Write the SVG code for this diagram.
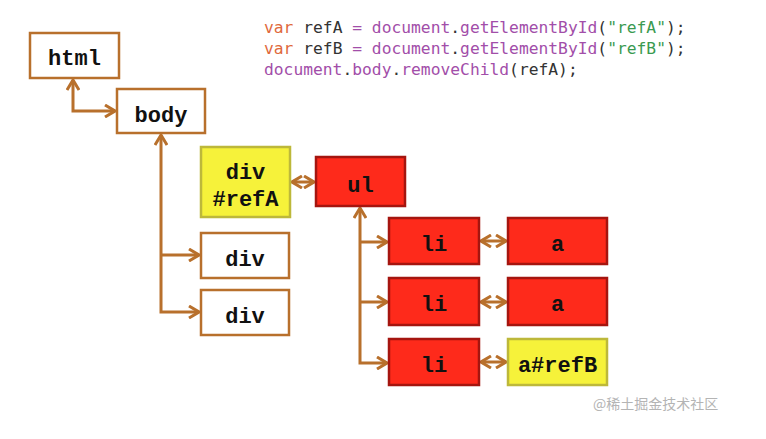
<svg xmlns="http://www.w3.org/2000/svg" width="766" height="439" viewBox="0 0 766 439">
<style>
.box{stroke-width:2.5}
.w{fill:#ffffff;stroke:#b8702c}
.y{fill:#f6f23a;stroke:#bdb83a}
.r{fill:#fe2a1b;stroke:#a5150f}
.lbl{font-family:"Liberation Mono","Courier New",monospace;font-weight:bold;font-size:22px;fill:#111;text-anchor:middle}
.code{font-family:"DejaVu Sans Mono","Liberation Mono",monospace;font-size:16.3px;white-space:pre;fill:#333}
.kw{fill:#e0693c}.pu{fill:#a24ea9}.st{fill:#3a9a50}
.con path{fill:none;stroke:#b8702c;stroke-width:3}
.wm{font-family:"Noto Sans CJK SC","Noto Sans",sans-serif;font-size:14px;fill:#b4b4b4}
</style>
<defs>
<marker id="ah" markerUnits="userSpaceOnUse" viewBox="0 0 12 14" refX="11" refY="7" markerWidth="12" markerHeight="14" orient="auto-start-reverse">
<path d="M1,1 L11,7 L1,13" fill="none" stroke="#b8702c" stroke-width="3"/>
</marker>
</defs>
<rect width="766" height="439" fill="#ffffff"/>
<g id="code">
<text class="code" x="264" y="33"><tspan class="kw">var</tspan> refA <tspan class="pu">= document</tspan>.<tspan class="pu">getElementById</tspan>(<tspan class="st">"refA"</tspan>);</text>
<text class="code" x="264" y="54"><tspan class="kw">var</tspan> refB <tspan class="pu">= document</tspan>.<tspan class="pu">getElementById</tspan>(<tspan class="st">"refB"</tspan>);</text>
<text class="code" x="264" y="75"><tspan class="pu">document</tspan>.<tspan class="pu">body</tspan>.<tspan class="pu">removeChild</tspan>(refA);</text>
</g>
<g class="con" id="connectors">
<path d="M73,80 V111 H115" marker-start="url(#ah)" marker-end="url(#ah)"/>
<path d="M161,135 V312 H199" marker-start="url(#ah)" marker-end="url(#ah)"/>
<path d="M161,255 H199" marker-end="url(#ah)"/>
<path d="M292,182 H314" marker-start="url(#ah)" marker-end="url(#ah)"/>
<path d="M360,208 V363 H387" marker-start="url(#ah)" marker-end="url(#ah)"/>
<path d="M360,242 H387" marker-end="url(#ah)"/>
<path d="M360,302 H387" marker-end="url(#ah)"/>
<path d="M481,241 H506" marker-start="url(#ah)" marker-end="url(#ah)"/>
<path d="M481,302 H506" marker-start="url(#ah)" marker-end="url(#ah)"/>
<path d="M481,362 H506" marker-start="url(#ah)" marker-end="url(#ah)"/>
</g>
<g id="html"><rect class="box w" x="30" y="33" width="89" height="45"/><text class="lbl" x="74.5" y="65">html</text></g>
<g id="body"><rect class="box w" x="117" y="89" width="88" height="44"/><text class="lbl" x="161" y="122">body</text></g>
<g id="refA"><rect class="box y" x="201" y="147" width="89" height="70"/><text class="lbl" x="245.5" y="179">div</text><text class="lbl" x="245.5" y="206">#refA</text></g>
<g id="ul"><rect class="box r" x="316" y="157" width="89" height="49"/><text class="lbl" x="360.5" y="192">ul</text></g>
<g id="div1"><rect class="box w" x="201" y="233" width="88" height="45"/><text class="lbl" x="245" y="266">div</text></g>
<g id="div2"><rect class="box w" x="201" y="290" width="88" height="45"/><text class="lbl" x="245" y="323">div</text></g>
<g id="li1"><rect class="box r" x="389" y="218" width="90" height="46"/><text class="lbl" x="434" y="251">li</text></g>
<g id="li2"><rect class="box r" x="389" y="278" width="90" height="47"/><text class="lbl" x="434" y="311">li</text></g>
<g id="li3"><rect class="box r" x="389" y="339" width="90" height="46"/><text class="lbl" x="434" y="372">li</text></g>
<g id="a1"><rect class="box r" x="508" y="218" width="99" height="46"/><text class="lbl" x="557.5" y="251">a</text></g>
<g id="a2"><rect class="box r" x="508" y="278" width="99" height="47"/><text class="lbl" x="557.5" y="311">a</text></g>
<g id="refB"><rect class="box y" x="508" y="339" width="99" height="46"/><text class="lbl" x="557.5" y="372">a#refB</text></g>
<text class="wm" x="593" y="409">@稀土掘金技术社区</text>
</svg>
